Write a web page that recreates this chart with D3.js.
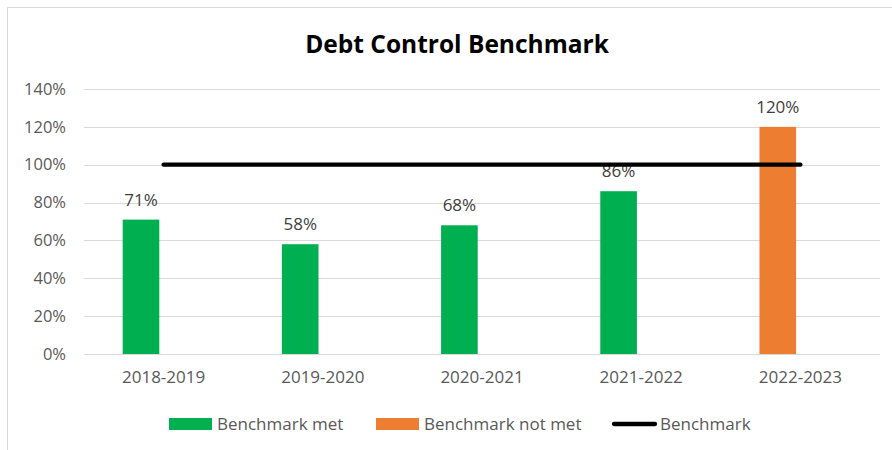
<!DOCTYPE html>
<html>
<head>
<meta charset="utf-8">
<script src="https://cdn.jsdelivr.net/npm/d3@7"></script>
<style>
  html, body { margin: 0; padding: 0; background: #fff; }
  svg { display: block; }
  text { font-family: "Open Sans", sans-serif; }
</style>
</head>
<body>
<svg id="chart" width="892" height="450"></svg>
<script>
const categories = ["2018-2019", "2019-2020", "2020-2021", "2021-2022", "2022-2023"];
const metValues = [0.71, 0.58, 0.68, 0.86, null];
const notMetValues = [null, null, null, null, 1.20];
const benchmarkValues = [1, 1, 1, 1, 1];
const yTicks = [0, 0.2, 0.4, 0.6, 0.8, 1.0, 1.2, 1.4];
const seriesNames = ["Benchmark met", "Benchmark not met", "Benchmark"];
const colors = { met: "#00B050", notMet: "#ED7D31", bench: "#000000" };

const svg = d3.select("#chart");
const W = 892, H = 450;
const plot = { left: 84, right: 880, top: 89, bottom: 354 };

// frame (left + top border)
svg.append("path")
  .attr("d", `M7.5,${H} V7.5 H${W}`)
  .attr("fill", "none").attr("stroke", "#d9d9d9").attr("stroke-width", 1);

// title
svg.append("text")
  .attr("x", 457).attr("y", 53)
  .attr("text-anchor", "middle")
  .attr("font-size", 24.5).attr("font-weight", 700)
  .attr("fill", "#000")
  .text("Debt Control Benchmark");

const x = d3.scaleBand().domain(categories).range([plot.left, plot.right]).paddingInner(0).paddingOuter(0);
const y = d3.scaleLinear().domain([0, 1.4]).range([plot.bottom, plot.top]);

// gridlines
svg.append("g").selectAll("line").data(yTicks).join("line")
  .attr("x1", plot.left).attr("x2", plot.right)
  .attr("y1", d => Math.round(y(d)) + 0.5).attr("y2", d => Math.round(y(d)) + 0.5)
  .attr("stroke", "#d9d9d9").attr("stroke-width", 1);

// y axis labels
const yAxis = d3.axisLeft(y).tickValues(yTicks).tickFormat(d3.format(".0%")).tickSize(0).tickPadding(0);
const gy = svg.append("g").attr("transform", `translate(66,0)`).call(yAxis);
gy.select(".domain").remove();
gy.selectAll("text").attr("font-size", 16.5).attr("fill", "#595959").attr("font-family", "Open Sans, sans-serif");

// x axis labels
const xAxis = d3.axisBottom(x).tickSize(0).tickPadding(0);
const gx = svg.append("g").attr("transform", `translate(0,${plot.bottom + 17})`).call(xAxis);
gx.select(".domain").remove();
gx.selectAll("text").attr("font-size", 17).attr("fill", "#595959").attr("font-family", "Open Sans, sans-serif");

const barW = x.bandwidth() * 0.23;
const barOff = x.bandwidth() * 0.243;

function drawBars(values, color) {
  const data = categories.map((c, i) => ({ c, v: values[i] })).filter(d => d.v != null);
  svg.append("g").selectAll("rect").data(data).join("rect")
    .attr("x", d => x(d.c) + barOff).attr("width", barW)
    .attr("y", d => y(d.v)).attr("height", d => y(0) - y(d.v))
    .attr("fill", color);
  svg.append("g").selectAll("text").data(data).join("text")
    .attr("x", d => x(d.c) + barOff + barW / 2)
    .attr("y", d => y(d.v) - 14)
    .attr("text-anchor", "middle")
    .attr("font-size", 17).attr("fill", "#404040")
    .text(d => d3.format(".0%")(d.v));
}
drawBars(metValues, colors.met);
drawBars(notMetValues, colors.notMet);

// benchmark line
const line = d3.line().x((d, i) => x(categories[i]) + x.bandwidth() / 2).y(d => y(d));
svg.append("path").datum(benchmarkValues)
  .attr("d", line)
  .attr("fill", "none").attr("stroke", colors.bench).attr("stroke-width", 4.3)
  .attr("stroke-linecap", "round");

// legend
const legendY = 424;
const leg = svg.append("g");
const items = [
  { name: seriesNames[0], type: "rect", color: colors.met, x: 169 },
  { name: seriesNames[1], type: "rect", color: colors.notMet, x: 376 },
  { name: seriesNames[2], type: "line", color: colors.bench, x: 612 }
];
items.forEach(it => {
  if (it.type === "rect") {
    leg.append("rect").attr("x", it.x).attr("y", legendY - 6).attr("width", 43).attr("height", 12).attr("fill", it.color);
  } else {
    leg.append("line").attr("x1", it.x + 2).attr("x2", it.x + 43).attr("y1", legendY).attr("y2", legendY)
      .attr("stroke", it.color).attr("stroke-width", 4.3).attr("stroke-linecap", "round");
  }
  leg.append("text").attr("x", it.x + 48).attr("y", legendY + 6)
    .attr("font-size", 17).attr("fill", "#595959")
    .text(it.name);
});
</script>
</body>
</html>
